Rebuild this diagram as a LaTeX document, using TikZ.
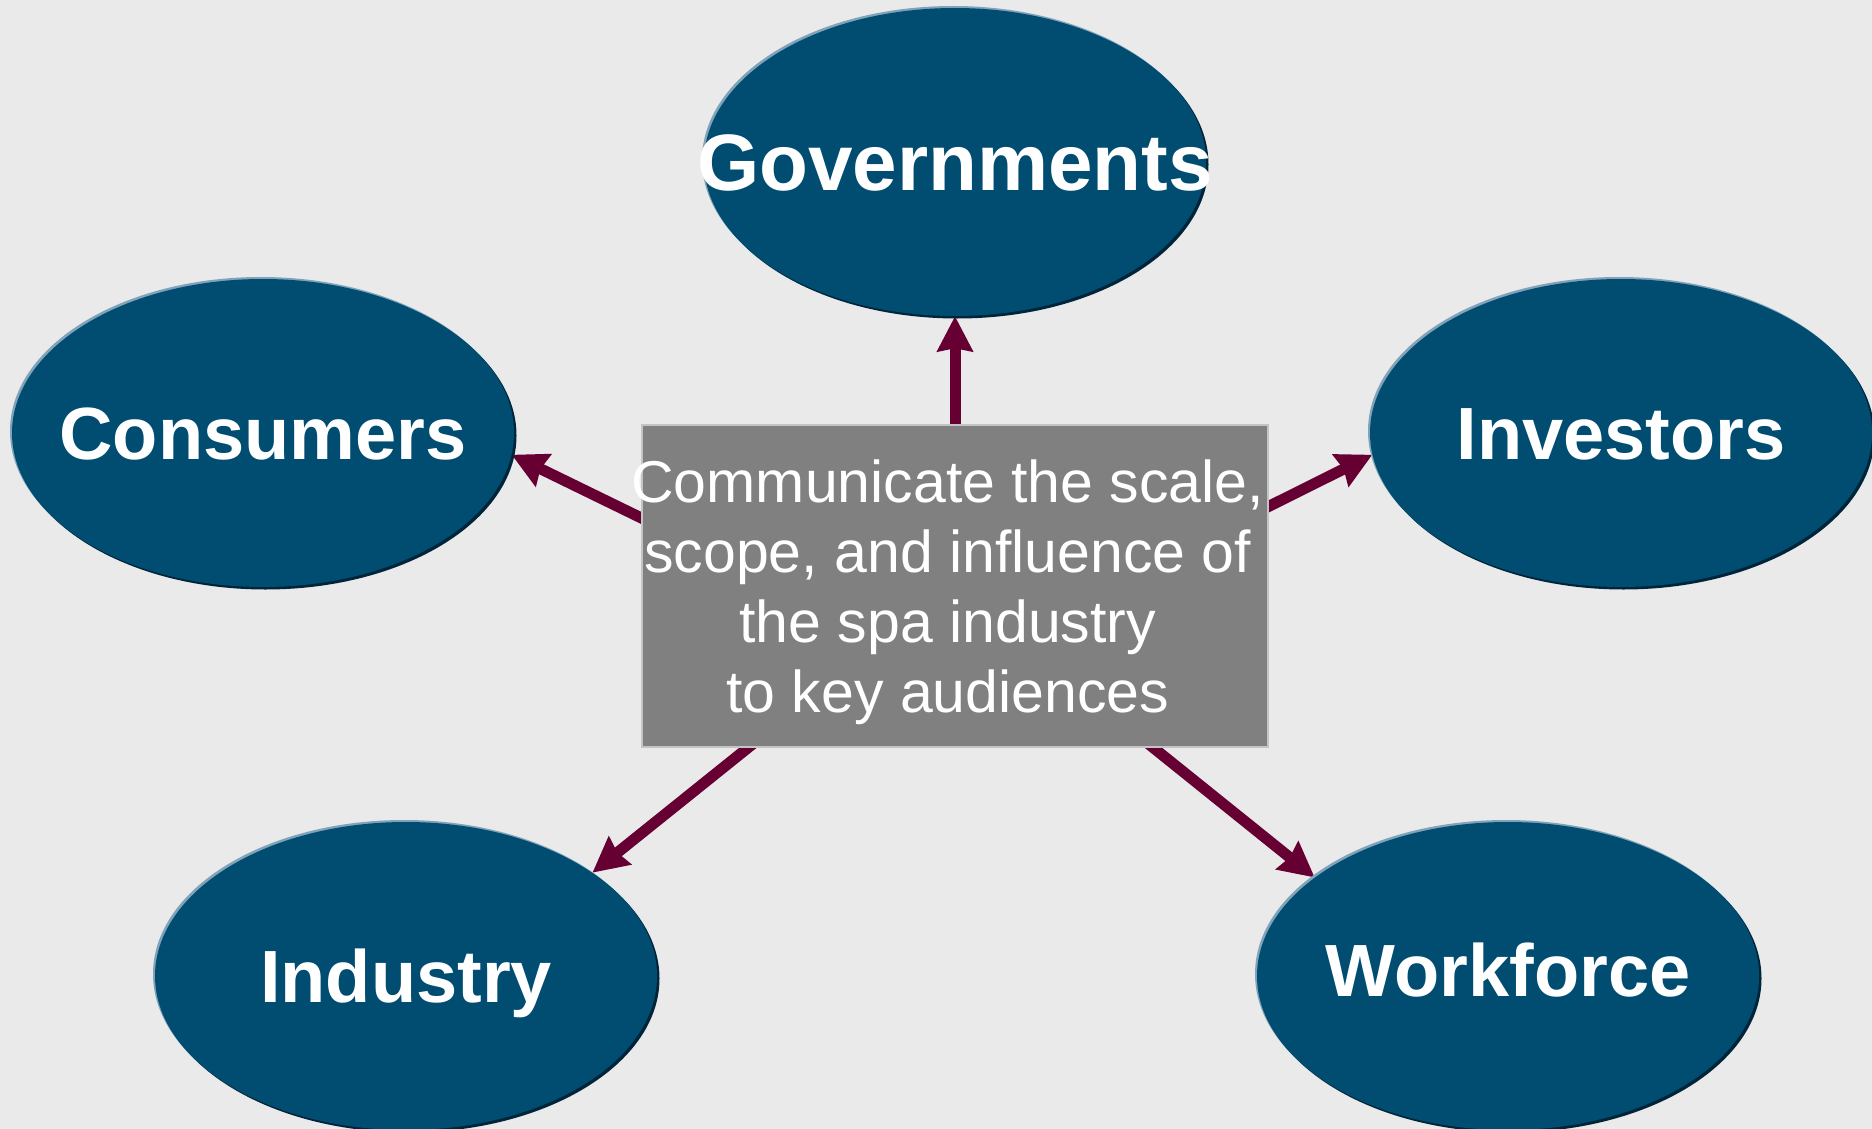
\documentclass[tikz,border=0pt]{standalone}
\usepackage{fontspec}
\setmainfont{Liberation Sans}
\usetikzlibrary{arrows.meta,shapes.geometric,calc,shadows}
\pgfdeclarelayer{bg}
\pgfdeclarelayer{arr}
\pgfsetlayers{bg,arr,main}
\definecolor{bgc}{HTML}{EAEAEA}
\definecolor{ovalc}{HTML}{004D71}
\definecolor{ovaldark}{HTML}{00253A}
\definecolor{ovallight}{HTML}{7FA3BA}
\definecolor{arrc}{HTML}{660033}
\definecolor{boxc}{HTML}{808080}
\definecolor{boxline}{HTML}{C4C4C4}
\begin{document}
\begin{tikzpicture}[x=1pt,y=-1pt,
  oval/.style={ellipse, fill=ovalc, minimum width=502pt, minimum height=308pt, inner sep=0pt,
    general shadow={fill=ovallight, shadow xshift=-2pt, shadow yshift=2pt},
    general shadow={fill=ovaldark, shadow xshift=2.5pt, shadow yshift=-2.5pt}},
  ovaltext/.style={text=white, font=\bfseries\fontsize{74}{74}\selectfont, text height=53pt, text depth=0pt, inner sep=0pt},
  bigtext/.style={text=white, font=\bfseries\fontsize{80}{80}\selectfont, text height=57pt, text depth=0pt, inner sep=0pt},
  conn/.style={draw=arrc, line width=11pt, -{Stealth[length=35pt, width=35pt, inset=3pt]}},
  centrebox/.style={draw=boxline, line width=1.5pt, fill=boxc, minimum width=626pt, minimum height=322pt, inner sep=0pt},
  centretext/.style={text=white, font=\fontsize{59}{70}\selectfont, align=center, inner sep=0pt}
]
\useasboundingbox (0,0) rectangle (1872,1129);
\begin{pgfonlayer}{bg}
  \fill[bgc] (0,0) rectangle (1872,1129);
\end{pgfonlayer}

\node[oval, label={[bigtext]center:Governments}] (gov) at (955,162) {};
\node[oval, label={[ovaltext]center:Consumers}] (cons) at (263,433) {};
\node[oval, label={[ovaltext]center:Investors}] (inv) at (1621,433) {};
\node[oval, label={[ovaltext]center:Industry}] (ind) at (406,976) {};
\node[oval, label={[ovaltext, yshift=6pt]center:Workforce}] (wf) at (1508,976) {};

\node[centrebox, anchor=north west] (box) at (641,424) {};
\node[centretext] (boxtext) at ($(box.center)+(-7,6)$) {Communicate the scale,\\scope, and influence of\\the spa industry\\to key audiences};

\coordinate (gs) at ($(gov.south |- box.north)+(0,20)$);
\coordinate (cs) at ($(box.north west)!0.29!(box.south west)$);
\coordinate (is) at ($(box.north east)!0.255!(box.south east)$);
\coordinate (ds) at ($(box.south west)!0.171!(box.south east)$);
\coordinate (ws) at ($(box.south west)!0.816!(box.south east)$);

\begin{pgfonlayer}{arr}
  \draw[conn] (gs) -- (gov.south);
  \draw[conn] ($(cs)!-20pt!(cons.-5.5)$) -- (cons.-5.5);
  \draw[conn] ($(is)!-20pt!(inv.185.5)$) -- (inv.185.5);
  \draw[conn] ($(ds)!-20pt!(ind.29.2)$) -- (ind.29.2);
  \draw[conn] ($(ws)!-20pt!(wf.153.5)$) -- (wf.153.5);
\end{pgfonlayer}
\end{tikzpicture}
\end{document}
